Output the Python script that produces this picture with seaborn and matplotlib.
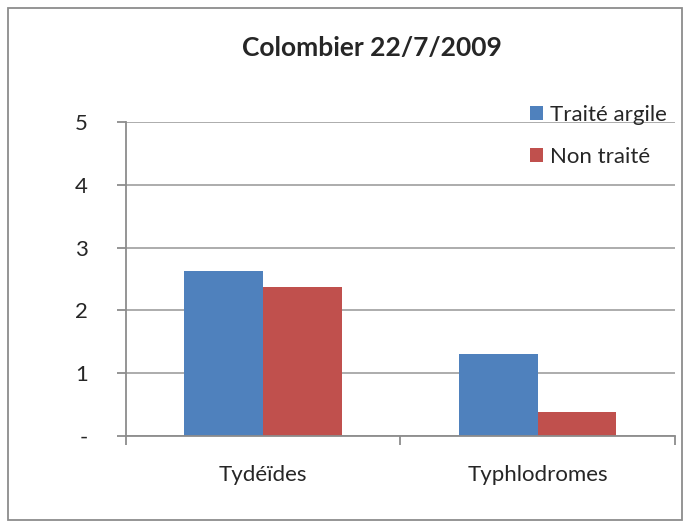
import numpy as np
import pandas as pd
import seaborn as sns
import matplotlib
matplotlib.use("Agg")
import matplotlib.pyplot as plt
from matplotlib.patches import Rectangle

categories = ["Tydéïdes", "Typhlodromes"]
series = ["Traité argile", "Non traité"]
traite_argile = [2.62, 1.30]
non_traite = [2.37, 0.38]
colors = ["#4F81BD", "#C0504D"]

df = pd.DataFrame({
    "groupe": categories * 2,
    "traitement": [series[0]] * 2 + [series[1]] * 2,
    "valeur": traite_argile + non_traite,
})

sns.set_style("white")
plt.rcParams['font.family'] = ['Lato', 'DejaVu Sans']

fig = plt.figure(figsize=(6.83, 5.22), dpi=100)
ax = fig.add_axes([0.1845, 0.1648, 0.8035, 0.6015])

sns.barplot(data=df, x="groupe", y="valeur", hue="traitement",
            palette=colors, width=0.575, saturation=1, ax=ax, errorbar=None,
            linewidth=0)

ax.set_xlim(-0.5, 1.5)
ax.set_ylim(0, 5)
ax.set_yticks([0, 1, 2, 3, 4, 5])
ax.set_yticklabels(["-", "1", "2", "3", "4", "5"])
ax.yaxis.grid(True, color="#a6a6a6", linewidth=1.3)
ax.set_axisbelow(True)
ax.set_xlabel("")
ax.set_ylabel("")

for s in ["top", "right"]:
    ax.spines[s].set_visible(False)
for s in ["left", "bottom"]:
    ax.spines[s].set_color("#8c8c8c")
    ax.spines[s].set_linewidth(1.3)

ax.tick_params(axis="y", which="major", length=6.5, width=1.3, color="#8c8c8c",
               left=True, pad=21, labelsize=16)
ax.set_xticks([-0.5, 0.5, 1.5], minor=True)
ax.tick_params(axis="x", which="major", length=0, pad=21, labelsize=16)
ax.tick_params(axis="x", which="minor", length=6.5, width=1.3, color="#8c8c8c",
               bottom=True)

handles, labels = ax.get_legend_handles_labels()
ax.legend(handles, labels, loc="upper left", bbox_to_anchor=(0.776, 0.799),
          bbox_transform=fig.transFigure, frameon=False, fontsize=16,
          handlelength=0.6, handleheight=0.6, handletextpad=0.3,
          labelspacing=1.0, borderaxespad=0, borderpad=0)

fig.text(0.545, 0.908, "Colombier 22/7/2009", ha="center", va="center",
         fontsize=19, fontweight="bold")

fig.patches.append(Rectangle((0.011, 0.004), 0.987, 0.981, transform=fig.transFigure,
                             fill=False, edgecolor="#8c8c8c", linewidth=1.3))

fig.savefig("out.png", dpi=100)
